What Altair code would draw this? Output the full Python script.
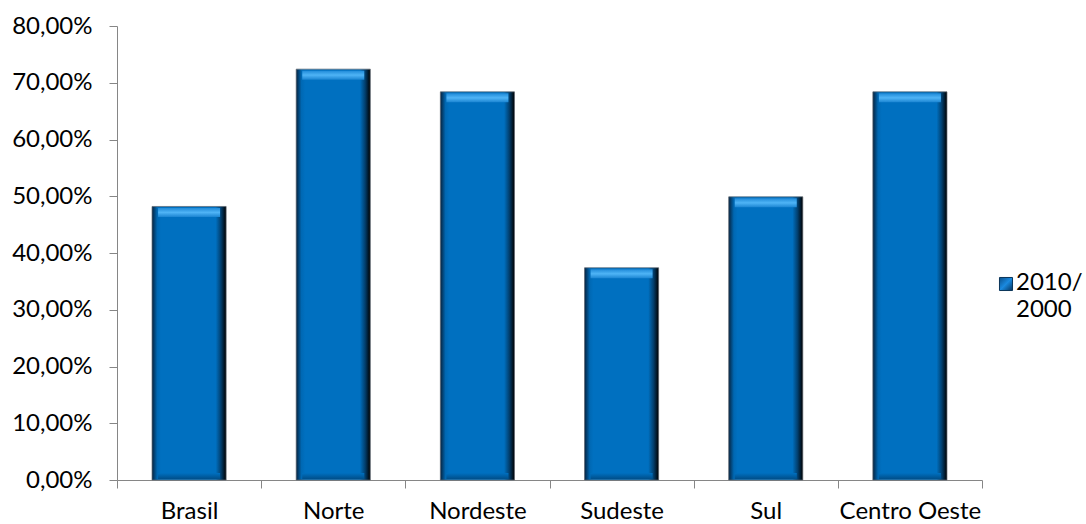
import altair as alt
import pandas as pd

categories = ["Brasil", "Norte", "Nordeste", "Sudeste", "Sul", "Centro Oeste"]
values = [0.482, 0.724, 0.684, 0.374, 0.499, 0.684]
series_name = "2010/2000"
y_ticks = [0.0, 0.1, 0.2, 0.3, 0.4, 0.5, 0.6, 0.7, 0.8]

df = pd.DataFrame({
    "regiao": categories,
    "valor": values,
    "serie": [series_name] * len(categories),
})
legend_df = pd.DataFrame({"serie": [series_name]})

AXIS_GRAY = "#868686"
FONT = "Lato"
FS = 24

x_enc = alt.X(
    "regiao:N",
    sort=categories,
    scale=alt.Scale(paddingInner=0, paddingOuter=0),
    axis=alt.Axis(
        title=None, labelAngle=0, tickBand="extent", tickSize=8,
        labelPadding=11, labelFontSize=FS, labelFont=FONT, labelColor="#000000",
        domainColor=AXIS_GRAY, tickColor=AXIS_GRAY, grid=False,
    ),
)
y_enc = alt.Y(
    "valor:Q",
    scale=alt.Scale(domain=[0, 0.8], nice=False),
    axis=alt.Axis(
        title=None, values=y_ticks,
        labelExpr="replace(format(datum.value, '.2%'), '.', ',')",
        tickSize=8, labelPadding=17, labelFontSize=FS, labelFont=FONT,
        labelColor="#000000", domainColor=AXIS_GRAY, tickColor=AXIS_GRAY,
        grid=False,
    ),
)

base = alt.Chart(df)
BAR_W = alt.RelativeBandSize(0.514)

body_grad = alt.LinearGradient(
    gradient="linear", x1=0, x2=1, y1=0, y2=0,
    stops=[
        alt.GradientStop(offset=0, color="#06233f"),
        alt.GradientStop(offset=0.07, color="#0068b3"),
        alt.GradientStop(offset=0.12, color="#0070C0"),
        alt.GradientStop(offset=0.86, color="#0070C0"),
        alt.GradientStop(offset=0.93, color="#023f6e"),
        alt.GradientStop(offset=1, color="#000000"),
    ],
)
bodies = base.mark_bar(fill=body_grad, stroke="#5a6470", strokeWidth=0.7, width=BAR_W).encode(
    x=x_enc, y=y_enc
)

top_grad = alt.LinearGradient(
    gradient="linear", x1=0, x2=0, y1=0, y2=1,
    stops=[
        alt.GradientStop(offset=0, color="#1f8ad8"),
        alt.GradientStop(offset=0.5, color="#4fb4f6"),
        alt.GradientStop(offset=1, color="#1b85d2"),
    ],
)
tops = base.mark_tick(fill=top_grad, opacity=1, thickness=9, size=62, yOffset=6).encode(
    x=x_enc, y=y_enc
)

bottom_grad = alt.LinearGradient(
    gradient="linear", x1=0, x2=0, y1=0, y2=1,
    stops=[
        alt.GradientStop(offset=0, color="#0070C0"),
        alt.GradientStop(offset=1, color="#004f8a"),
    ],
)
bottoms = base.mark_tick(fill=bottom_grad, opacity=1, thickness=6, size=62, yOffset=-4).encode(
    x=x_enc, y=alt.datum(0)
)

sym_grad = alt.LinearGradient(
    gradient="linear", x1=0, x2=1, y1=0, y2=1,
    stops=[
        alt.GradientStop(offset=0, color="#0a4f8a"),
        alt.GradientStop(offset=0.5, color="#1a8ae0"),
        alt.GradientStop(offset=1, color="#06345e"),
    ],
)
legend_symbol = alt.Chart(legend_df).mark_square(
    size=170, fill=sym_grad, opacity=1, stroke="#0b3559", strokeWidth=1
).encode(x=alt.value(889), y=alt.value(258))

legend_text = alt.Chart(legend_df).transform_calculate(
    lbl="replace(datum.serie, '/', '/\\n')"
).mark_text(
    align="left", baseline="middle", lineBreak="\n", lineHeight=27,
    font=FONT, fontSize=FS, color="#000000",
).encode(x=alt.value(899), y=alt.value(257), text="lbl:N")

chart = alt.layer(bodies, tops, bottoms, legend_symbol, legend_text).properties(
    width=865, height=454,
    autosize=alt.AutoSizeParams(type="none"),
    padding={"left": 117, "top": 26, "right": 104, "bottom": 44},
    background="white",
).configure_view(stroke=None)

chart.save("out.html", embed_options={"renderer": "svg", "actions": False})
